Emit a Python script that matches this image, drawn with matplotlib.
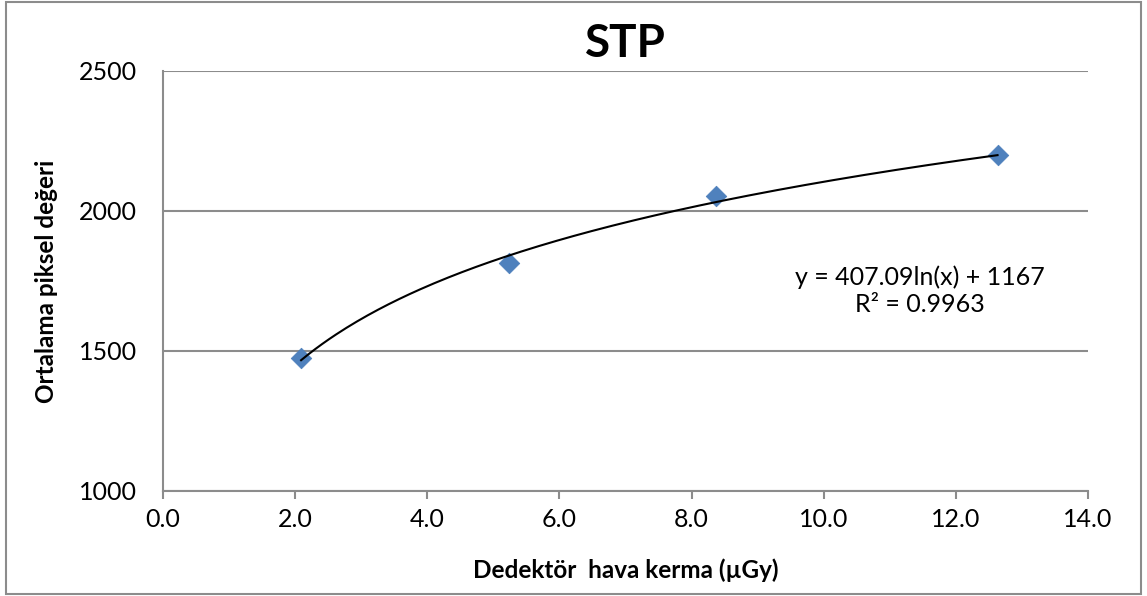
import numpy as np
import matplotlib.pyplot as plt
from matplotlib.patches import Rectangle

# detector air kerma (µGy) and mean pixel value
kerma = [2.09, 5.23, 8.37, 12.63]
pixel = [1476, 1815, 2052, 2199]

# logarithmic trendline coefficients and fit quality
fit_a = 407.09
fit_b = 1167
fit_r2 = 0.9963

x_ticks = [0, 2, 4, 6, 8, 10, 12, 14]
y_ticks = [1000, 1500, 2000, 2500]

plt.rcParams['font.family'] = ['Lato', 'DejaVu Sans']

fig = plt.figure(figsize=(11.47, 5.96), dpi=100)
ax = fig.add_axes([0.1421, 0.1762, 0.8065, 0.7047])

# outer chart frame
fig.patches.append(Rectangle((0.005, 0.004), 0.990, 0.992, transform=fig.transFigure,
                             fill=False, edgecolor="#8c8c8c", linewidth=1.5))

# trendline
xs = np.linspace(min(kerma), max(kerma), 200)
ax.plot(xs, fit_a * np.log(xs) + fit_b, color="black", linewidth=1.5, zorder=3)

# data points
ax.scatter(kerma, pixel, marker="D", s=110, color="#4f81bd", edgecolor="#4a7ebb",
           linewidth=0.5, zorder=2)

ax.set_xlim(0, 14)
ax.set_ylim(1000, 2500)
ax.set_xticks(x_ticks)
ax.set_xticklabels([f"{v:.1f}" for v in x_ticks])
ax.set_yticks(y_ticks)
ax.set_yticklabels([str(v) for v in y_ticks])

ax.grid(axis="y", color="#8c8c8c", linewidth=1.5)
ax.set_axisbelow(True)
for side in ["top", "right"]:
    ax.spines[side].set_visible(False)
for side in ["left", "bottom"]:
    ax.spines[side].set_color("#8c8c8c")
    ax.spines[side].set_linewidth(1.5)

ax.tick_params(axis="x", length=6, width=1.5, color="#8c8c8c", labelsize=18, pad=6)
ax.tick_params(axis="y", length=0, labelsize=18, pad=19)

ax.set_title("STP", fontsize=33, fontweight="bold", pad=10)
ax.set_xlabel("Dedektör  hava kerma (µGy)", fontsize=17.5, fontweight="bold", labelpad=20)
ax.set_ylabel("Ortalama piksel değeri", fontsize=17.5, fontweight="bold", labelpad=15)

ax.text(11.46, 1714, f"y = {fit_a:.2f}ln(x) + {fit_b}\nR² = {fit_r2}",
        ha="center", va="center", fontsize=18, linespacing=1.2)

fig.savefig("out.png", dpi=100)
